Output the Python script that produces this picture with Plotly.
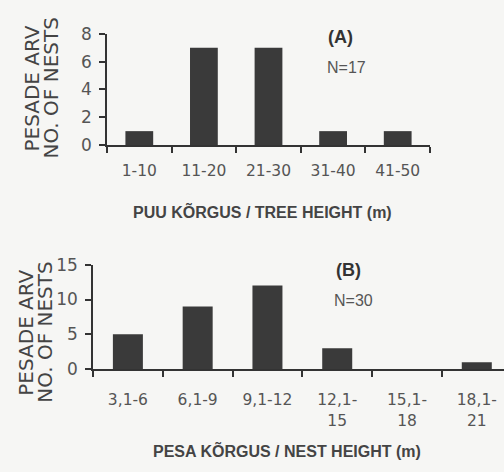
import plotly.graph_objects as go

W, H = 504, 472

# Panel A data
cats_a = ["1-10", "11-20", "21-30", "31-40", "41-50"]
vals_a = [1, 7, 7, 1, 1]
# Panel B data
cats_b = ["3,1-6", "6,1-9", "9,1-12", "12,1-<br>15", "15,1-<br>18", "18,1-<br>21"]
vals_b = [5, 9, 12, 3, 0, 1]

BAR = "#3a3a3a"
AX = "#333333"
TXT = "#444444"
FONT = "Liberation Sans, Arial, sans-serif"
TFONT = "DejaVu Sans, sans-serif"

def px(x):
    return x / W

def py(y):
    return 1 - y / H

fig = go.Figure()
fig.add_trace(go.Bar(x=cats_a, y=vals_a, marker=dict(color=BAR, line=dict(width=0)),
                     width=0.43, xaxis="x", yaxis="y", showlegend=False))
fig.add_trace(go.Bar(x=cats_b, y=vals_b, marker=dict(color=BAR, line=dict(width=0)),
                     width=0.43, xaxis="x2", yaxis="y2", showlegend=False))

common_x = dict(type="category", showline=True, linecolor=AX, linewidth=1.5,
                ticks="outside", tickson="boundaries", ticklen=6, tickcolor=AX, tickwidth=1.5,
                showgrid=False, zeroline=False,
                tickfont=dict(family=TFONT, size=15.5, color="#555555"), fixedrange=True)
common_y = dict(showline=True, linecolor=AX, linewidth=1.5, ticks="outside", ticklen=6,
                tickcolor=AX, tickwidth=1.5, showgrid=False, zeroline=False,
                ticklabelstandoff=4,
                tickfont=dict(family=TFONT, size=17, color="#555555"), fixedrange=True)

fig.update_layout(
    width=W, height=H,
    margin=dict(l=0, r=0, t=0, b=0),
    paper_bgcolor="#f6f6f4", plot_bgcolor="rgba(0,0,0,0)",
    bargap=0.57,
    xaxis=dict(common_x, domain=[px(107), px(430)], anchor="y", range=[-0.5, 4.5],
               ticklabelstandoff=11),
    yaxis=dict(common_y, domain=[py(141), py(25)], anchor="x", range=[0, 8],
               tickvals=[0, 2, 4, 6, 8]),
    xaxis2=dict(common_x, domain=[px(93), 1.0], anchor="y2", range=[-0.5, 5.39],
                ticklabelstandoff=16),
    yaxis2=dict(common_y, domain=[py(375), py(266)], anchor="x2", range=[0, 15],
                tickvals=[0, 5, 10, 15]),
)

def ann(text, x, y, size, bold=False, angle=0, color=TXT, family=FONT):
    fig.add_annotation(text=f"<b>{text}</b>" if bold else text, x=px(x), y=py(y),
                       xref="paper", yref="paper", showarrow=False, textangle=angle,
                       xanchor="center", yanchor="middle",
                       font=dict(family=family, size=size, color=color))

# Panel A texts
ann("PESADE ARV", 32, 82, 20, angle=-90, family=TFONT)
ann("NO. OF NESTS", 51, 82, 20, angle=-90, family=TFONT)
ann("PUU KÕRGUS / TREE HEIGHT (m)", 262, 210, 16, bold=True)
ann("(A)", 340, 28, 18, bold=True, color="#333333")
ann("N=17", 346, 60, 16, color="#555555")

# Panel B texts
ann("PESADE ARV", 26, 337, 20, angle=-90, family=TFONT)
ann("NO. OF NESTS", 45, 337, 20, angle=-90, family=TFONT)
ann("PESA KÕRGUS / NEST HEIGHT (m)", 287, 460, 16, bold=True)
ann("(B)", 348, 271, 18, bold=True, color="#333333")
ann("N=30", 353, 303, 16, color="#555555")

fig.write_html("out.html", config={"displayModeBar": False},
               post_script="document.body.style.margin='0';document.body.style.overflow='hidden';")
